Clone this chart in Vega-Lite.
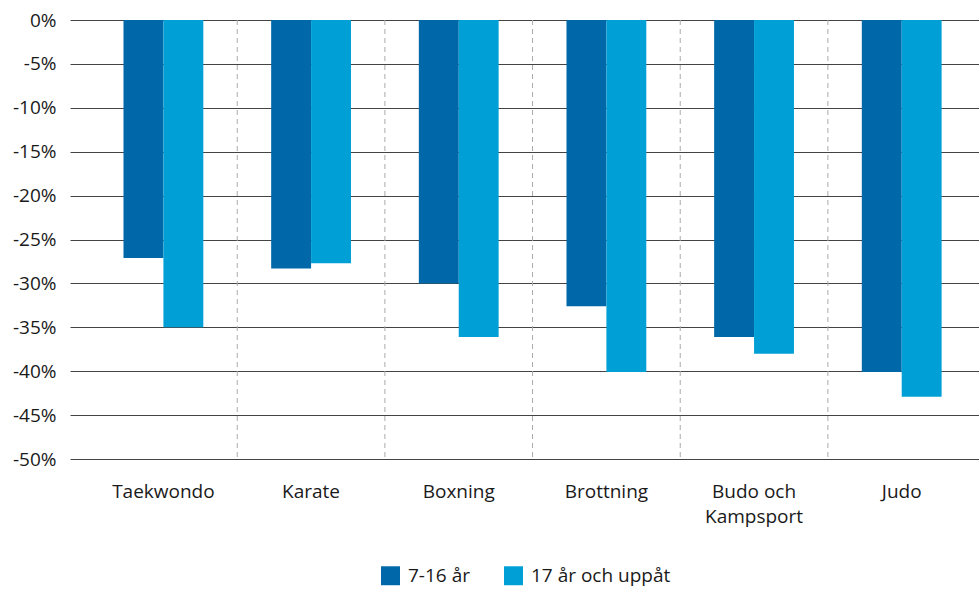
{
  "$schema": "https://vega.github.io/schema/vega-lite/v6.json",
  "autosize": "none",
  "width": 909,
  "height": 439,
  "padding": {"left": 70, "top": 20, "right": 0, "bottom": 132},
  "background": "white",
  "config": {
    "font": "Open Sans",
    "view": {"stroke": null}
  },
  "datasets": {
    "bars": [
      {"sport": "Taekwondo", "group": "7-16 år", "value": -27.1},
      {"sport": "Taekwondo", "group": "17 år och uppåt", "value": -35.0},
      {"sport": "Karate", "group": "7-16 år", "value": -28.3},
      {"sport": "Karate", "group": "17 år och uppåt", "value": -27.7},
      {"sport": "Boxning", "group": "7-16 år", "value": -30.0},
      {"sport": "Boxning", "group": "17 år och uppåt", "value": -36.1},
      {"sport": "Brottning", "group": "7-16 år", "value": -32.6},
      {"sport": "Brottning", "group": "17 år och uppåt", "value": -40.1},
      {"sport": "Budo och Kampsport", "group": "7-16 år", "value": -36.1},
      {"sport": "Budo och Kampsport", "group": "17 år och uppåt", "value": -38.0},
      {"sport": "Judo", "group": "7-16 år", "value": -40.1},
      {"sport": "Judo", "group": "17 år och uppåt", "value": -42.9}
    ],
    "dividers": [
      {"sport": "Karate"},
      {"sport": "Boxning"},
      {"sport": "Brottning"},
      {"sport": "Budo och Kampsport"},
      {"sport": "Judo"}
    ]
  },
  "layer": [
    {
      "data": {"name": "bars"},
      "mark": {"type": "bar"},
      "encoding": {
        "x": {
          "field": "sport", "type": "nominal",
          "sort": ["Taekwondo", "Karate", "Boxning", "Brottning", "Budo och Kampsport", "Judo"],
          "scale": {"paddingInner": 0, "paddingOuter": 0.078, "align": 0.85},
          "axis": {
            "title": null, "domain": false, "ticks": false, "grid": false,
            "bandPosition": 0.5,
            "labelAngle": 0, "labelFontSize": 19, "labelColor": "#1a1a1a",
            "labelPadding": 23, "labelLineHeight": 25,
            "labelExpr": "datum.label == 'Budo och Kampsport' ? ['Budo och', 'Kampsport'] : datum.label"
          }
        },
        "xOffset": {
          "field": "group", "type": "nominal",
          "sort": ["7-16 år", "17 år och uppåt"],
          "scale": {"paddingInner": 0, "paddingOuter": 0.85}
        },
        "y": {
          "field": "value", "type": "quantitative",
          "scale": {"domain": [-50, 0], "nice": false},
          "axis": {
            "title": null, "domain": false, "ticks": false,
            "values": [0, -5, -10, -15, -20, -25, -30, -35, -40, -45, -50],
            "labelExpr": "datum.value + '%'",
            "labelFontSize": 19, "labelColor": "#1a1a1a", "labelPadding": 14,
            "grid": true, "gridColor": "#444444", "gridWidth": 1, "gridOpacity": 1
          }
        },
        "color": {
          "field": "group", "type": "nominal",
          "sort": ["7-16 år", "17 år och uppåt"],
          "scale": {"domain": ["7-16 år", "17 år och uppåt"], "range": ["#0068a8", "#00a0d6"]},
          "legend": {
            "title": null, "orient": "none", "direction": "horizontal",
            "legendX": 311, "legendY": 546,
            "symbolType": "square", "symbolSize": 360, "symbolStrokeWidth": 0,
            "labelFontSize": 19, "labelColor": "#1a1a1a", "columnPadding": 34, "labelOffset": 8
          }
        }
      }
    },
    {
      "data": {"name": "dividers"},
      "mark": {"type": "rule", "color": "#aaaaaa", "strokeDash": [5, 4], "strokeWidth": 1},
      "encoding": {
        "x": {"field": "sport", "type": "nominal", "bandPosition": 0,
              "sort": ["Taekwondo", "Karate", "Boxning", "Brottning", "Budo och Kampsport", "Judo"]},
        "y": {"datum": 0, "type": "quantitative"},
        "y2": {"datum": -50}
      }
    }
  ]
}
